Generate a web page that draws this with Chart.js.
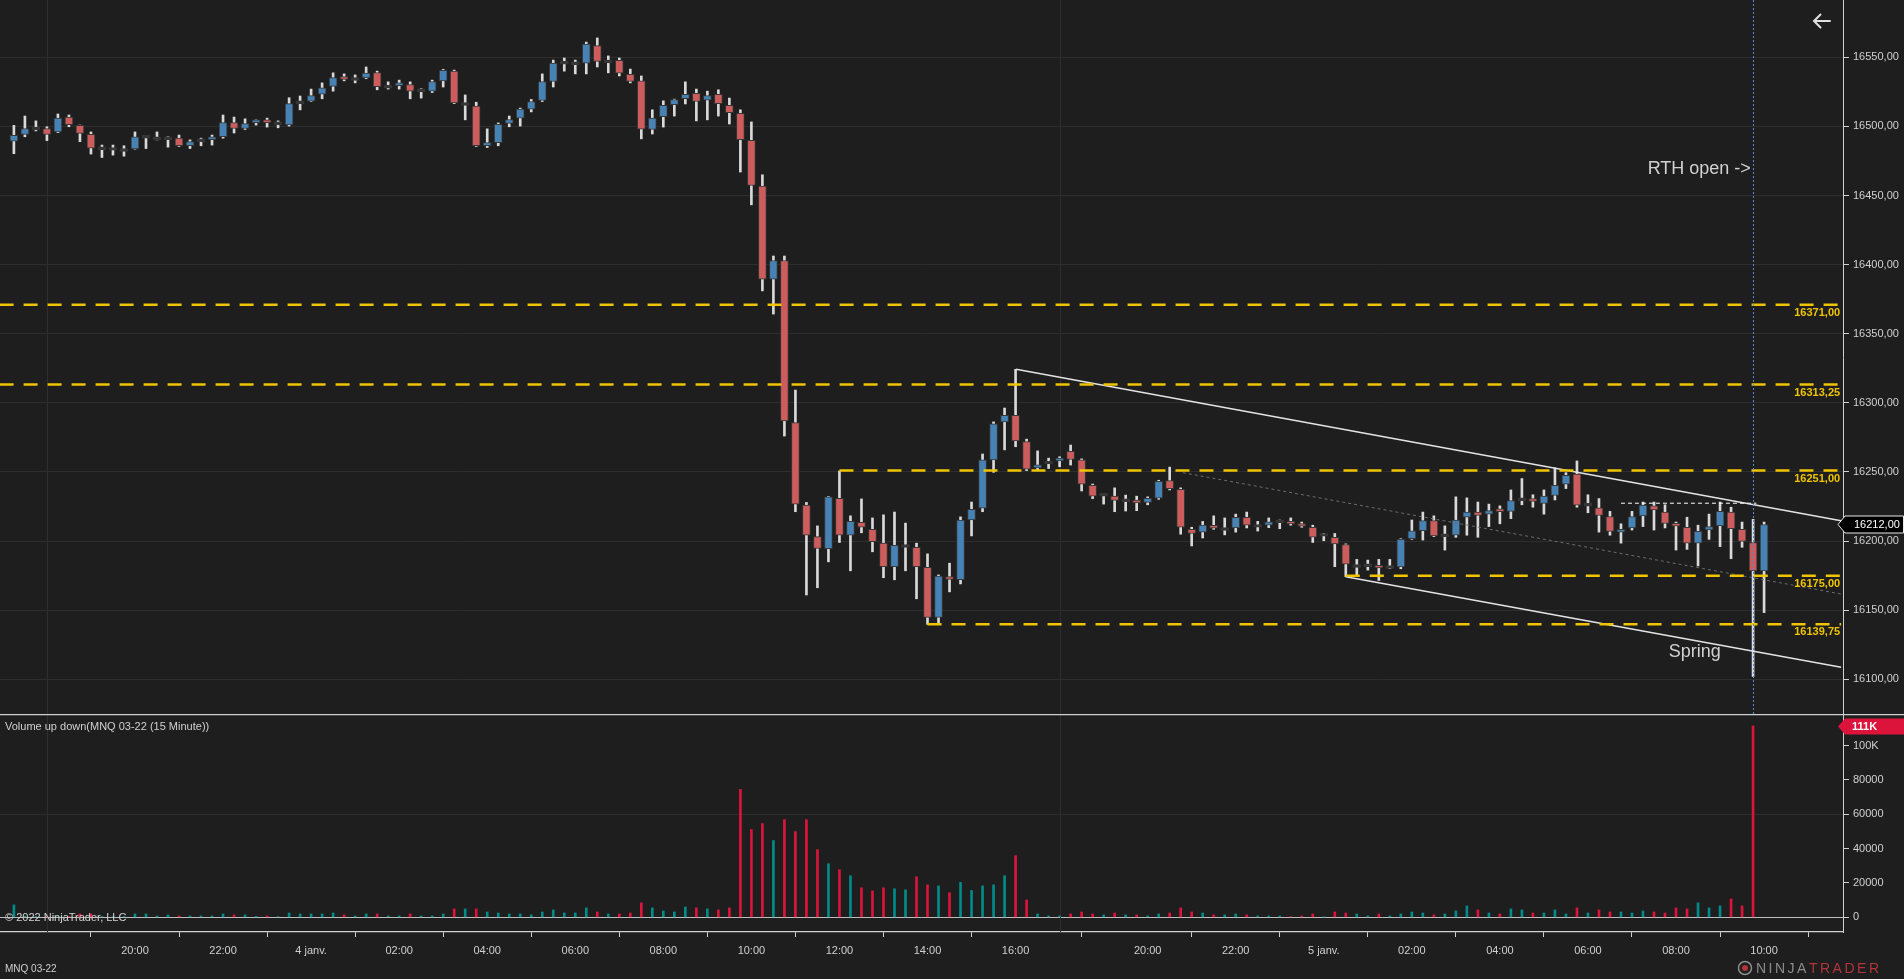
<!DOCTYPE html>
<html>
<head>
<meta charset="utf-8">
<script src="https://cdn.jsdelivr.net/npm/chart.js@4.4.1/dist/chart.umd.min.js"></script>
<style>
html, body { margin: 0; padding: 0; background: #1e1e1e; overflow: hidden; }
#wrap { position: relative; width: 1904px; height: 979px; background: #1e1e1e; }
#pbox { position: absolute; left: 0; top: 0; width: 1904px; height: 714px; }
#vbox { position: absolute; left: 0; top: 714px; width: 1904px; height: 265px; }
</style>
</head>
<body>
<div id="wrap">
    <div id="pbox"><canvas id="priceChart"></canvas></div>
    <div id="vbox"><canvas id="volChart"></canvas></div>
</div>
<script>
// MNQ 03-22, 15 minute bars, index 0 = 3 janv. 16:15 ... 159 = 5 janv. 10:00
const opens = [
    16489.25, 16494.25, 16498.5, 16498.5, 16496, 16506.75, 16500.75, 16494.25, 16484.25, 16483.75,
    16483, 16483.75, 16492.5, 16491.5, 16491.5, 16491.5, 16486, 16490, 16491, 16492.5,
    16502.75, 16498.5, 16503.5, 16504.25, 16502.25, 16501, 16517.5, 16518.25, 16523.25, 16529,
    16535.75, 16534.25, 16535, 16539, 16528.75, 16530, 16530.25, 16526, 16525.5, 16533,
    16540, 16516.25, 16514.75, 16486, 16488.25, 16502.25, 16506, 16512.5, 16518.75, 16532.5,
    16546, 16545.75, 16545.75, 16558.5, 16547, 16547.75, 16537.75, 16533, 16497.75, 16507,
    16515.75, 16520, 16524, 16519, 16523.25, 16515.25, 16509.5, 16490, 16456.75, 16389.5,
    16403, 16285.75, 16226, 16203.25, 16194.5, 16231, 16204.25, 16213.5, 16208.5, 16198.5,
    16181.5, 16196.5, 16195.5, 16181, 16144.75, 16174.25, 16172, 16215.25, 16223.75, 16258.75,
    16286.25, 16291, 16272, 16253, 16256.75, 16258, 16265, 16258.75, 16240.25, 16233.5,
    16232.5, 16229.5, 16229.25, 16228, 16231, 16243.75, 16237.5, 16208.5, 16206.5, 16211.25,
    16208.75, 16209.5, 16217.25, 16211, 16211.5, 16214.25, 16214, 16212.5, 16210, 16204.5,
    16202.75, 16197.5, 16182, 16182.5, 16182.5, 16181.25, 16181.25, 16201.75, 16207.5, 16214.75,
    16204.25, 16204.25, 16217.25, 16221, 16219.5, 16223, 16221.5, 16230.25, 16230.75, 16227.25,
    16233, 16241.25, 16248.5, 16226.25, 16224, 16217.75, 16206.5, 16209.5, 16218.25, 16225.5,
    16221, 16212.75, 16210, 16198.5, 16208, 16211, 16221, 16208.5, 16199, 16178.5
];
const highs = [
    16500.75, 16507.5, 16504, 16499.75, 16509, 16508.25, 16501, 16496, 16486.5, 16486.5,
    16486, 16496, 16493, 16496, 16492.5, 16493.75, 16490.25, 16491.5, 16493.75, 16508.25,
    16506.75, 16505.5, 16504.75, 16506, 16504, 16520.75, 16522, 16527, 16531.5, 16538.75,
    16538, 16537.25, 16543, 16540, 16532.25, 16533.5, 16532.25, 16527.25, 16533.5, 16541.25,
    16540.75, 16522.75, 16517.5, 16498.25, 16502.5, 16507.5, 16513.25, 16519.5, 16538, 16548,
    16549.5, 16548, 16561, 16564, 16551, 16549.5, 16541.5, 16536.5, 16512, 16518.5,
    16519.75, 16532.25, 16527, 16525.5, 16526.5, 16520.5, 16512, 16503.25, 16465, 16406.25,
    16406.25, 16309.25, 16228, 16211, 16232.25, 16250.75, 16218.25, 16230.5, 16216.75, 16219,
    16221, 16213, 16198.5, 16190.75, 16175.5, 16184, 16217.5, 16228.25, 16263, 16286.25,
    16296.25, 16324.25, 16273.75, 16265.25, 16260, 16261, 16269.5, 16259.5, 16241.25, 16234.5,
    16238.5, 16233.25, 16232.5, 16232, 16244, 16253.5, 16238.5, 16210, 16214.25, 16218.25,
    16216.75, 16219.5, 16221, 16214.25, 16216.75, 16215.25, 16216.75, 16213.75, 16211.5, 16205.5,
    16205.5, 16198, 16186.75, 16186.25, 16186.75, 16186.75, 16201.75, 16215.25, 16221, 16218.25,
    16211, 16232, 16231.25, 16228.25, 16226.75, 16225.5, 16237, 16245.25, 16233.5, 16237,
    16253, 16249.5, 16258, 16233.5, 16230.75, 16221.5, 16212.5, 16221.5, 16228.25, 16228.25,
    16226.25, 16213.75, 16217.25, 16211.5, 16219.5, 16228.25, 16224.5, 16213.75, 16215.75, 16213.75
];
const lows = [
    16480.25, 16492.5, 16496.75, 16489.75, 16495.5, 16499.75, 16489, 16480, 16477.5, 16479.25,
    16478.5, 16483.5, 16484, 16490.25, 16485, 16485.5, 16484, 16486, 16486.5, 16491.5,
    16495.25, 16497.75, 16501, 16499.5, 16499, 16500.25, 16512, 16518, 16520, 16525.5,
    16533, 16531.5, 16534.5, 16526.5, 16527, 16527, 16520, 16520.5, 16524.5, 16528.5,
    16516.5, 16504.75, 16485.5, 16484.75, 16486, 16499.75, 16500.25, 16510.5, 16518, 16528.5,
    16540, 16538, 16538, 16543, 16538.75, 16536.5, 16531.5, 16491, 16494.5, 16499.5,
    16507.5, 16516.25, 16504, 16504.75, 16507.5, 16501.75, 16467, 16443.25, 16381, 16364.25,
    16276, 16221.25, 16161, 16166.25, 16185, 16199, 16178.5, 16206, 16192.25, 16173.5,
    16172, 16178.5, 16158.25, 16139.75, 16141, 16163.25, 16169, 16203.75, 16221.25, 16249.75,
    16266, 16268.25, 16251, 16251, 16252.5, 16253.75, 16255, 16236.25, 16230.75, 16226.75,
    16221.25, 16221.75, 16222, 16226.25, 16230.25, 16237, 16205, 16196.5, 16202.25, 16208.5,
    16204.5, 16206.5, 16209.5, 16207.25, 16209.75, 16209, 16211.5, 16210, 16199, 16200.25,
    16181.5, 16174.25, 16174.25, 16179, 16171.5, 16180, 16180, 16201.25, 16200.75, 16203.25,
    16193.5, 16202.75, 16204.25, 16202.75, 16210.5, 16212.5, 16216.25, 16226.25, 16224.5, 16219.5,
    16229.75, 16238, 16224.5, 16220.5, 16206.5, 16204.25, 16198.5, 16208, 16210.5, 16208,
    16209.5, 16193.5, 16194, 16182, 16201.25, 16196, 16187.25, 16195.5, 16102, 16148.25
];
const closes = [
    16493.5, 16498.5, 16498.5, 16494.25, 16506, 16501.25, 16495, 16484.25, 16484.25, 16483.75,
    16483, 16492.5, 16492.5, 16491.5, 16491.5, 16486, 16489, 16490, 16492, 16502.75,
    16498.5, 16502, 16504, 16503.25, 16502.25, 16516.5, 16517.5, 16522.25, 16528, 16535.25,
    16534.25, 16534.25, 16538.5, 16528.75, 16528.75, 16531, 16525.5, 16526, 16532.5, 16540.5,
    16517, 16516.25, 16486, 16488.25, 16501.5, 16505, 16512.5, 16518, 16532.5, 16545.75,
    16546, 16545.75, 16559.5, 16547, 16547, 16538.5, 16532.5, 16498, 16506, 16515.25,
    16519.5, 16523.25, 16518, 16522.25, 16516.5, 16510, 16490.5, 16457.25, 16389.5, 16403,
    16287, 16226.75, 16204.25, 16194.75, 16232, 16204.25, 16214.25, 16210, 16199.5, 16181.5,
    16197, 16196.5, 16181.5, 16144.75, 16174.75, 16172.25, 16215.25, 16223, 16258.75, 16284.75,
    16291, 16272.5, 16252, 16255.25, 16256.75, 16260, 16259, 16241.25, 16232.5, 16233.5,
    16229.5, 16229.5, 16228, 16231, 16243.25, 16238, 16210, 16205.5, 16211.5, 16209.5,
    16208.75, 16217.25, 16211.5, 16211, 16214, 16214.25, 16212.75, 16211, 16202.75, 16204.5,
    16198, 16183.25, 16182, 16182.5, 16180.5, 16181.25, 16201.25, 16207.5, 16214.75, 16203.75,
    16204.25, 16215.25, 16221, 16218.5, 16222, 16221.5, 16229.25, 16230.25, 16228.75, 16232.5,
    16240.25, 16247.5, 16226, 16226.25, 16218.5, 16207, 16208.5, 16217.75, 16226, 16222.5,
    16212.75, 16211, 16198.5, 16207, 16210.5, 16221.5, 16209, 16199.75, 16178.5, 16212
];
const volumes = [
    7200, 600, 500, 400, 400, 500, 1950, 1950, 500, 400,
    500, 1950, 1950, 800, 1400, 800, 800, 800, 800, 1950,
    1400, 1400, 500, 800, 400, 2500, 1950, 1950, 1950, 2500,
    1400, 800, 1950, 1950, 800, 800, 1950, 800, 800, 1950,
    4900, 4900, 4900, 3100, 2500, 1950, 1950, 1400, 3100, 4300,
    2500, 2500, 5500, 3100, 1950, 1950, 2500, 8400, 5500, 3700,
    3100, 6000, 5500, 4900, 4300, 5500, 74500, 51100, 54600, 44700,
    56900, 49900, 56900, 39400, 31200, 27700, 24200, 17200, 15400, 17200,
    16600, 16000, 23600, 18900, 18300, 14300, 20300, 15600, 18300, 18900,
    24200, 35900, 10100, 1950, 800, 800, 1950, 3100, 1950, 1400,
    2500, 1400, 1400, 800, 1950, 2500, 5500, 3100, 2500, 1400,
    1400, 1950, 1400, 800, 800, 800, 400, 800, 1950, 200,
    3100, 2500, 1950, 800, 1950, 800, 1950, 3100, 2500, 1400,
    1950, 3700, 6600, 4300, 2500, 1950, 4900, 4300, 2500, 2500,
    4300, 1950, 5500, 2500, 4300, 3100, 3100, 2500, 3700, 3100,
    2500, 5500, 4900, 8400, 5500, 6600, 10700, 6600, 111400, null
];

// time axis
const tickIdx = [11, 19, 27, 35, 43, 51, 59, 67, 75, 83, 91, 103, 111, 119, 127, 135, 143, 151, 159];
const tickLabels = ['20:00', '22:00', '4 janv.', '02:00', '04:00', '06:00', '08:00', '10:00', '12:00', '14:00',
    '16:00', '20:00', '22:00', '5 janv.', '02:00', '04:00', '06:00', '08:00', '10:00'];
const sessionBreaks = [3, 95];
const priceTicks = [16100, 16150, 16200, 16250, 16300, 16350, 16400, 16450, 16500, 16550];
const volTicks = [0, 20000, 40000, 60000, 80000, 100000];

// drawings
const levelPrices = [16371, 16313.25, 16251, 16175, 16139.75];
const levelStarts = [-1.3, -1.3, 75, 121, 83];
const drawEnd = 166;
const upperChannel = [[91.05, 16324.3], [166, 16214.7]];
const lowerChannel = [[121, 16174.2], [166, 16108.7]];
const midChannel = [[106.2, 16249.5], [166, 16161.7]];
const shortLine = [[146, 16227.4], [158.3, 16227.4]];
const rthIdx = 158;
const notes = [
    { text: 'RTH open ->', x: 157.8, y: 16469, align: 'right' },
    { text: 'Spring', x: 152.7, y: 16120, align: 'center' }
];

const FONT = "'Liberation Sans', Arial, sans-serif";
const AXIS = '#d0d0d0';
const fmt = v => v.toFixed(2).replace('.', ',');
const xMin = -1.263, xMax = 166.17;

Chart.defaults.font.family = FONT;
Chart.defaults.font.size = 11;
Chart.defaults.color = AXIS;

const idx = closes.map((c, i) => i);
const wickData = idx.map(i => ({ x: i, y: [lows[i], highs[i]] }));
const bodyData = idx.map(i => {
    let lo = Math.min(opens[i], closes[i]);
    let hi = Math.max(opens[i], closes[i]);
    if (hi - lo < 2) {
        const m = (hi + lo) / 2;
        lo = m - 1;
        hi = m + 1;
    }
    return { x: i, y: [lo, hi] };
});
const bodyColors = idx.map(i => closes[i] > opens[i] ? '#4682b4' : (closes[i] < opens[i] ? '#cd5c5c' : '#363636'));
const pts = arr => arr.map(p => ({ x: p[0], y: p[1] }));

const levelSets = levelPrices.map((v, k) => ({
    type: 'line',
    data: [{ x: levelStarts[k], y: v }, { x: drawEnd, y: v }],
    borderColor: '#f0c400',
    borderWidth: 2.5,
    borderDash: [14, 10],
    pointRadius: 0,
    order: 0
}));

function lineSet(arr, color, width, dash) {
    return {
        type: 'line',
        data: pts(arr),
        borderColor: color,
        borderWidth: width,
        borderDash: dash,
        pointRadius: 0,
        order: 0
    };
}

function trimPadding(scale) {
    scale.paddingTop = 0;
    scale.paddingBottom = 0;
    scale.paddingLeft = 0;
    scale.paddingRight = 0;
}

const priceOverlay = {
    id: 'priceOverlay',
    beforeDatasetsDraw(chart) {
        const { ctx, chartArea, scales: { x } } = chart;
        ctx.save();
        ctx.strokeStyle = '#2e2e2e';
        ctx.lineWidth = 1;
        sessionBreaks.forEach(i => {
            const px = Math.round(x.getPixelForValue(i)) + 0.5;
            ctx.beginPath();
            ctx.moveTo(px, chartArea.top);
            ctx.lineTo(px, chartArea.bottom);
            ctx.stroke();
        });
        ctx.restore();
    },
    afterDatasetsDraw(chart) {
        const { ctx, chartArea, scales: { x, y } } = chart;
        ctx.save();

        // RTH open line
        const rx = Math.round(x.getPixelForValue(rthIdx)) + 0.5;
        ctx.strokeStyle = '#4f8fdc';
        ctx.lineWidth = 1;
        ctx.setLineDash([2, 2]);
        ctx.beginPath();
        ctx.moveTo(rx, chartArea.top);
        ctx.lineTo(rx, chartArea.bottom);
        ctx.stroke();
        ctx.setLineDash([]);

        // level labels
        ctx.font = 'bold 11px ' + FONT;
        ctx.fillStyle = '#f0c400';
        ctx.textAlign = 'right';
        ctx.textBaseline = 'middle';
        levelPrices.forEach(v => {
            ctx.fillText(fmt(v), x.getPixelForValue(drawEnd) - 1, y.getPixelForValue(v) + 8);
        });

        // text notes
        ctx.font = '18px ' + FONT;
        ctx.fillStyle = '#d2d2d2';
        notes.forEach(n => {
            ctx.textAlign = n.align;
            ctx.fillText(n.text, x.getPixelForValue(n.x), y.getPixelForValue(n.y));
        });

        // last price marker
        const last = closes[closes.length - 1];
        const my = Math.round(y.getPixelForValue(last)) + 0.5;
        const ax = chartArea.right;
        ctx.beginPath();
        ctx.moveTo(ax - 5, my);
        ctx.lineTo(ax + 2, my - 8.5);
        ctx.lineTo(1903.5, my - 8.5);
        ctx.lineTo(1903.5, my + 8.5);
        ctx.lineTo(ax + 2, my + 8.5);
        ctx.closePath();
        ctx.fillStyle = '#000000';
        ctx.fill();
        ctx.strokeStyle = '#e8e8e8';
        ctx.lineWidth = 1;
        ctx.stroke();
        ctx.font = '11px ' + FONT;
        ctx.fillStyle = '#ffffff';
        ctx.textAlign = 'left';
        ctx.fillText(fmt(last), ax + 11, my + 0.5);

        // back arrow
        ctx.strokeStyle = '#e0e0e0';
        ctx.lineWidth = 2;
        ctx.lineCap = 'round';
        ctx.beginPath();
        ctx.moveTo(1830, 21);
        ctx.lineTo(1814, 21);
        ctx.moveTo(1820.5, 14.5);
        ctx.lineTo(1814, 21);
        ctx.lineTo(1820.5, 27.5);
        ctx.stroke();
        ctx.restore();
    }
};

// Price Chart
const ctxPrice = document.getElementById('priceChart').getContext('2d');
new Chart(ctxPrice, {
    type: 'bar',
    data: {
        datasets: [
            ...levelSets,
            lineSet(upperChannel, '#e4e4e4', 1.4, []),
            lineSet(lowerChannel, '#e4e4e4', 1.4, []),
            lineSet(midChannel, '#6c6c6c', 1, [3, 3]),
            lineSet(shortLine, '#ffffff', 1, [4, 3]),
            {
                data: bodyData,
                backgroundColor: bodyColors,
                borderColor: '#363636',
                borderWidth: 1,
                borderSkipped: false,
                barThickness: 8,
                grouped: false,
                order: 1
            },
            {
                data: wickData,
                backgroundColor: '#d9d9d9',
                borderWidth: 0,
                barThickness: 2,
                grouped: false,
                order: 2
            }
        ]
    },
    options: {
        responsive: true,
        maintainAspectRatio: false,
        animation: false,
        layout: { padding: 0 },
        plugins: { legend: { display: false }, tooltip: { enabled: false } },
        scales: {
            x: {
                type: 'linear',
                min: xMin,
                max: xMax,
                offset: false,
                display: false
            },
            y: {
                position: 'right',
                min: 16074.9,
                max: 16591.46,
                afterBuildTicks: s => { s.ticks = priceTicks.map(v => ({ value: v })); },
                afterFit: s => { s.width = 61; trimPadding(s); },
                ticks: { color: AXIS, padding: 4, callback: v => fmt(v) },
                grid: { color: '#2e2e2e', tickColor: AXIS, tickLength: 6 },
                border: { color: AXIS, width: 1 }
            }
        }
    },
    plugins: [priceOverlay]
});

const volOverlay = {
    id: 'volOverlay',
    beforeDatasetsDraw(chart) {
        const { ctx, chartArea, scales: { x } } = chart;
        ctx.save();
        ctx.strokeStyle = '#2e2e2e';
        ctx.lineWidth = 1;
        sessionBreaks.forEach(i => {
            const px = Math.round(x.getPixelForValue(i)) + 0.5;
            ctx.beginPath();
            ctx.moveTo(px, chartArea.top);
            ctx.lineTo(px, chartArea.bottom);
            ctx.stroke();
        });
        ctx.restore();
    },
    afterDatasetsDraw(chart) {
        const { ctx, chartArea, scales: { y } } = chart;
        ctx.save();
        // panel separator
        ctx.strokeStyle = AXIS;
        ctx.lineWidth = 1.2;
        ctx.beginPath();
        ctx.moveTo(0, 0.6);
        ctx.lineTo(chart.width, 0.6);
        ctx.stroke();

        ctx.font = '11px ' + FONT;
        ctx.fillStyle = AXIS;
        ctx.textAlign = 'left';
        ctx.textBaseline = 'middle';
        ctx.fillText('Volume up down(MNQ 03-22 (15 Minute))', 5, 13);
        ctx.fillText('\u00a9 2022 NinjaTrader, LLC', 5, 204);
        ctx.font = '10px ' + FONT;
        ctx.fillText('MNQ 03-22', 5, 255);

        // last volume marker
        let lastVol = 0;
        volumes.forEach(v => { if (v !== null) lastVol = v; });
        const my = Math.round(y.getPixelForValue(lastVol)) + 0.5;
        const ax = chartArea.right;
        ctx.beginPath();
        ctx.moveTo(ax - 5, my);
        ctx.lineTo(ax + 2, my - 8);
        ctx.lineTo(1904, my - 8);
        ctx.lineTo(1904, my + 8);
        ctx.lineTo(ax + 2, my + 8);
        ctx.closePath();
        ctx.fillStyle = '#dc143c';
        ctx.fill();
        ctx.font = 'bold 11px ' + FONT;
        ctx.fillStyle = '#ffffff';
        ctx.fillText(Math.floor(lastVol / 1000) + 'K', ax + 9, my + 0.5);

        // logo
        const ly = 254;
        ctx.strokeStyle = '#8c8c8c';
        ctx.lineWidth = 1.5;
        ctx.beginPath();
        ctx.arc(1745, ly, 6.5, 0, Math.PI * 2);
        ctx.stroke();
        ctx.fillStyle = '#b3343c';
        ctx.beginPath();
        ctx.arc(1745, ly, 3, 0, Math.PI * 2);
        ctx.fill();
        ctx.font = '14px ' + FONT;
        ctx.letterSpacing = '2.5px';
        ctx.fillStyle = '#8c8c8c';
        ctx.fillText('NINJA', 1756, ly + 1);
        const w = ctx.measureText('NINJA').width;
        ctx.fillStyle = '#b3343c';
        ctx.fillText('TRADER', 1756 + w, ly + 1);
        ctx.restore();
    }
};

// Volume Chart
const ctxVol = document.getElementById('volChart').getContext('2d');
new Chart(ctxVol, {
    type: 'bar',
    data: {
        datasets: [{
            data: idx.map(i => ({ x: i, y: volumes[i] })),
            backgroundColor: idx.map(i => closes[i] >= opens[i] ? '#008b8b' : '#dc143c'),
            borderWidth: 0,
            barThickness: 2,
            grouped: false
        }]
    },
    options: {
        responsive: true,
        maintainAspectRatio: false,
        animation: false,
        layout: { padding: 0 },
        plugins: { legend: { display: false }, tooltip: { enabled: false } },
        scales: {
            x: {
                type: 'linear',
                min: xMin,
                max: xMax,
                offset: false,
                afterBuildTicks: s => { s.ticks = tickIdx.map(v => ({ value: v })); },
                afterFit: s => { s.height = 47; trimPadding(s); },
                ticks: {
                    autoSkip: false,
                    maxRotation: 0,
                    padding: 7,
                    color: AXIS,
                    callback: (v) => tickLabels[tickIdx.indexOf(v)]
                },
                grid: { drawOnChartArea: false, tickColor: AXIS, tickLength: 5 },
                border: { color: AXIS, width: 1.2 }
            },
            y: {
                position: 'right',
                min: -8560,
                max: 118370,
                afterBuildTicks: s => { s.ticks = volTicks.map(v => ({ value: v })); },
                afterFit: s => { s.width = 61; trimPadding(s); },
                ticks: {
                    color: AXIS,
                    padding: 4,
                    callback: v => v >= 100000 ? (v / 1000) + 'K' : String(v)
                },
                grid: {
                    color: c => c.tick && c.tick.value === 0 ? '#bdbdbd' : (c.tick && c.tick.value === 60000 ? '#2e2e2e' : 'rgba(0,0,0,0)'),
                    tickColor: AXIS,
                    tickLength: 6
                },
                border: { color: AXIS, width: 1 }
            }
        }
    },
    plugins: [volOverlay]
});
</script>
</body>
</html>
